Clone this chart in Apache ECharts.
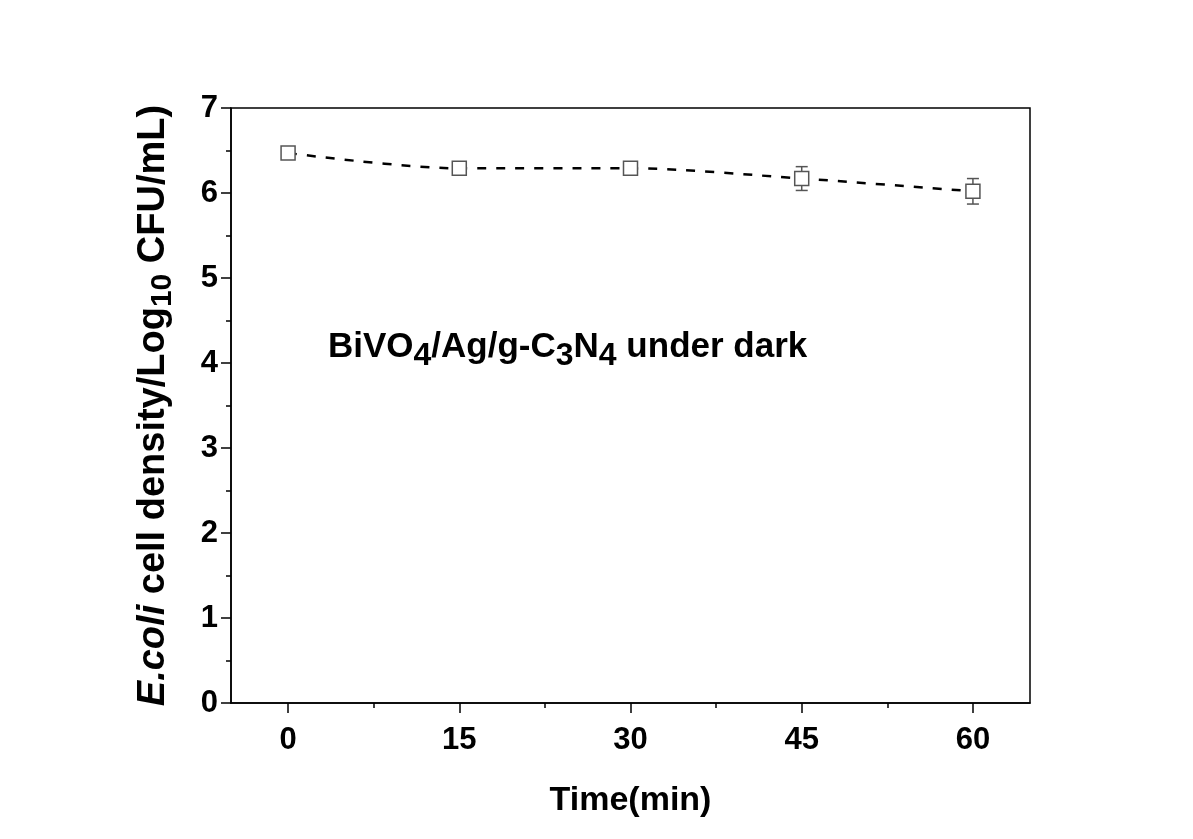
<!DOCTYPE html>
<html>
<head>
<meta charset="utf-8">
<script src="https://cdn.jsdelivr.net/npm/echarts@6/dist/echarts.min.js"></script>
<style>
  html, body { margin: 0; padding: 0; background: #fff; }
  #main { width: 1193px; height: 839px; }
</style>
</head>
<body>
<div id="main"></div>
<script>
// time points (min) and cell density (log10 CFU/mL)
var times = [0, 15, 30, 45, 60];
var density = [6.47, 6.29, 6.29, 6.17, 6.02];
var errors = [0.03, 0.05, 0.04, 0.14, 0.15];
var xTicks = [0, 15, 30, 45, 60];
var xMinorTicks = [7.5, 22.5, 37.5, 52.5];

var font = 'Liberation Sans, Arial, sans-serif';

var lineData = [];
var errData = [];
for (var i = 0; i < times.length; i++) {
    lineData.push([times[i], density[i]]);
    errData.push([times[i], density[i] - errors[i], density[i] + errors[i]]);
}

var chart = echarts.init(document.getElementById('main'));
var option = {
    animation: false,
    backgroundColor: '#fff',
    grid: {
        left: 231, top: 108, right: 163, bottom: 136,
        show: true, borderColor: '#000', borderWidth: 1.5, backgroundColor: 'transparent'
    },
    xAxis: [{
        type: 'value', min: -5, max: 65,
        name: 'Time(min)', nameLocation: 'middle', nameGap: 81,
        nameTextStyle: { fontFamily: font, fontWeight: 'bold', fontSize: 34, color: '#000' },
        axisLine: { show: true, onZero: false, lineStyle: { color: '#000', width: 1.5 } },
        axisTick: { show: true, customValues: xTicks, length: 10, lineStyle: { color: '#000', width: 1.5 } },
        axisLabel: { customValues: xTicks, margin: 22, fontFamily: font, fontWeight: 'bold', fontSize: 31, color: '#000' },
        splitLine: { show: false }
    }, {
        type: 'value', min: -5, max: 65, position: 'bottom',
        axisLine: { show: false, onZero: false },
        axisTick: { show: true, customValues: xMinorTicks, length: 5, lineStyle: { color: '#000', width: 1.5 } },
        axisLabel: { show: false },
        splitLine: { show: false }
    }],
    yAxis: {
        type: 'value', min: 0, max: 7, interval: 1,
        name: '{it|E.coli} cell density/Log{sub|10} CFU/mL)',
        nameLocation: 'middle', nameGap: 53,
        nameTextStyle: {
            fontFamily: font, fontWeight: 'bold', fontSize: 38, color: '#000',
            rich: {
                it: { fontFamily: font, fontWeight: 'bold', fontStyle: 'italic', fontSize: 38, color: '#000' },
                sub: { fontFamily: font, fontWeight: 'bold', fontSize: 30, color: '#000', padding: [18, 0, 0, 0] }
            }
        },
        axisLine: { show: true, onZero: false, lineStyle: { color: '#000', width: 1.5 } },
        axisTick: { show: true, length: 10, lineStyle: { color: '#000', width: 1.5 } },
        minorTick: { show: true, splitNumber: 2, length: 5, lineStyle: { color: '#000', width: 1.5 } },
        axisLabel: { margin: 13, fontFamily: font, fontWeight: 'bold', fontSize: 31, color: '#000' },
        splitLine: { show: false }
    },
    series: [{
        type: 'custom',
        z: 1,
        renderItem: function (params, api) {
            var x = api.value(0);
            var lo = api.coord([x, api.value(1)]);
            var hi = api.coord([x, api.value(2)]);
            var w = 6;
            var st = { stroke: '#555', lineWidth: 1.5 };
            return {
                type: 'group',
                children: [
                    { type: 'line', shape: { x1: lo[0], y1: lo[1], x2: hi[0], y2: hi[1] }, style: st },
                    { type: 'line', shape: { x1: lo[0] - w, y1: lo[1], x2: lo[0] + w, y2: lo[1] }, style: st },
                    { type: 'line', shape: { x1: hi[0] - w, y1: hi[1], x2: hi[0] + w, y2: hi[1] }, style: st }
                ]
            };
        },
        encode: { x: 0, y: [1, 2] },
        data: errData
    }, {
        type: 'line',
        z: 3,
        data: lineData,
        smooth: 0.3,
        symbol: 'rect',
        symbolSize: 14,
        itemStyle: { color: '#fff', borderColor: '#555', borderWidth: 1.5 },
        lineStyle: { color: '#000', width: 2.5, type: [9, 10] }
    }],
    graphic: [{
        type: 'text',
        left: 328,
        top: 330,
        style: {
            text: 'BiVO{sub|4}/Ag/g-C{sub|3}N{sub|4} under dark',
            fontFamily: font, fontWeight: 'bold', fontSize: 35, fill: '#000',
            rich: {
                sub: { fontFamily: font, fontWeight: 'bold', fontSize: 32, fill: '#000', padding: [18, 0, 0, 0] }
            }
        }
    }]
};
chart.setOption(option);
</script>
</body>
</html>
